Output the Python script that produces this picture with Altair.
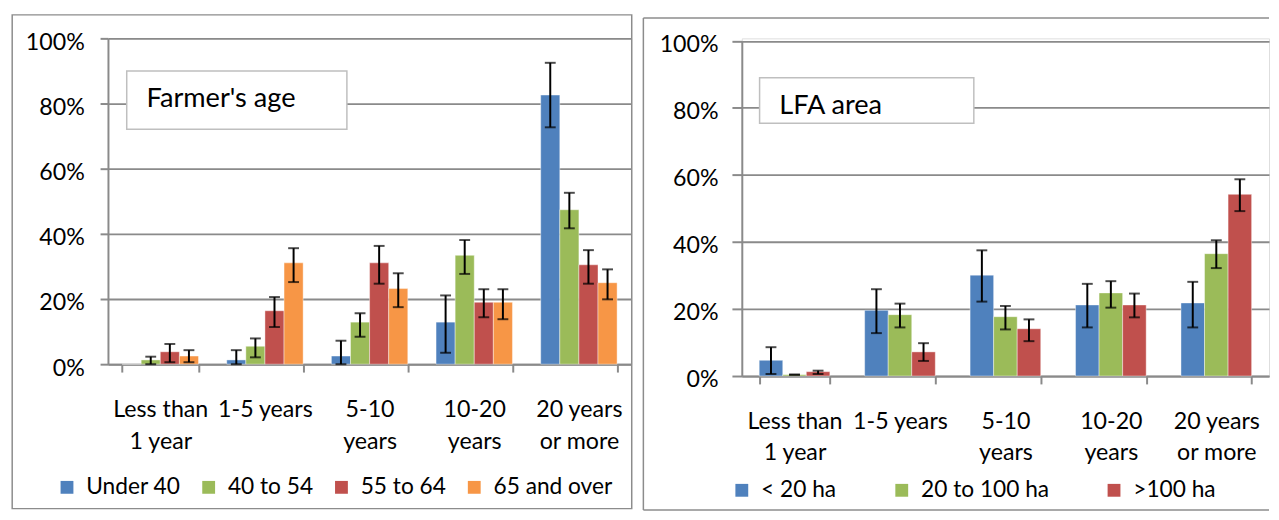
import altair as alt
import pandas as pd

# ---------------- data ----------------
categories = ["Less than|1 year", "1-5 years", "5-10|years", "10-20|years", "20 years|or more"]

# Left panel: farmer's age (percent of farms)
age_groups = ["Under 40", "40 to 54", "55 to 64", "65 and over"]
age_colors = ["#4F81BD", "#9BBB59", "#C0504D", "#F79646"]
under40_val = [0.0, 1.3, 2.5, 12.9, 82.6]
under40_low = [None, 0.0, 0.0, 3.5, 72.7]
under40_high = [None, 4.3, 7.2, 21.1, 92.5]
a40_54_val = [1.3, 5.5, 12.9, 33.4, 47.4]
a40_54_low = [0.0, 2.1, 8.4, 27.7, 41.7]
a40_54_high = [2.3, 7.9, 15.6, 38.1, 52.6]
a55_64_val = [3.8, 16.4, 31.1, 19.0, 30.5]
a55_64_low = [0.6, 11.4, 24.7, 14.4, 24.7]
a55_64_high = [6.2, 20.6, 36.3, 23.0, 35.0]
a65_val = [2.5, 31.1, 23.2, 19.0, 25.0]
a65_low = [0.6, 25.2, 17.5, 13.8, 19.9]
a65_high = [4.3, 35.6, 27.9, 23.0, 29.1]

# Right panel: LFA area
lfa_groups = ["< 20 ha", "20 to 100 ha", ">100 ha"]
lfa_colors = ["#4F81BD", "#9BBB59", "#C0504D"]
lt20_val = [4.7, 19.6, 30.1, 21.2, 21.8]
lt20_low = [0.6, 12.8, 22.2, 14.5, 14.5]
lt20_high = [8.6, 25.9, 37.5, 27.5, 28.1]
mid_val = [0.4, 18.3, 17.7, 24.8, 36.5]
mid_low = [0.4, 14.5, 13.9, 20.4, 32.2]
mid_high = [0.4, 21.6, 20.9, 28.3, 40.5]
gt100_val = [1.3, 7.2, 14.1, 21.2, 54.2]
gt100_low = [0.6, 4.5, 10.4, 17.5, 49.2]
gt100_high = [1.6, 9.8, 16.9, 24.6, 58.7]

y_ticks = [0, 20, 40, 60, 80, 100]
left_label = "Farmer's age"
right_label = "LFA area"

FONT = "Lato"
GRAY = "#8A8A8A"
FS = 23.5
LEG_FS = 23


def long_frame(groups, vals, lows, highs):
    rows = []
    for g, v, lo, hi in zip(groups, vals, lows, highs):
        for c, a, b, d in zip(categories, v, lo, hi):
            rows.append({"cat": c, "series": g, "value": a, "low": b, "high": d})
    return pd.DataFrame(rows)


age_df = long_frame(age_groups,
                    [under40_val, a40_54_val, a55_64_val, a65_val],
                    [under40_low, a40_54_low, a55_64_low, a65_low],
                    [under40_high, a40_54_high, a55_64_high, a65_high])
lfa_df = long_frame(lfa_groups,
                    [lt20_val, mid_val, gt100_val],
                    [lt20_low, mid_low, gt100_low],
                    [lt20_high, mid_high, gt100_high])

one = pd.DataFrame({"k": [0]})


def panel(df, groups, colors, w, h, y_range, pad_inner, frame, box, label, label_xy,
          legend_xy, col_pad, ytick, ypad):
    err_df = df.dropna(subset=["low", "high"])
    x_axis = alt.Axis(
        title=None, labelExpr="split(datum.label, '|')", labelAngle=0,
        labelFont=FONT, labelFontSize=FS, labelColor="black",
        labelLineHeight=32, labelPadding=26, tickBand="extent", tickSize=8,
        tickWidth=2, tickColor=GRAY, domainColor=GRAY, domainWidth=2,
        grid=False, labelLimit=300)
    y_axis = alt.Axis(
        title=None, values=y_ticks, labelExpr="datum.value + '%'",
        labelFont=FONT, labelFontSize=FS, labelColor="black",
        labelPadding=ypad, labelOffset=4, tickSize=ytick, tickWidth=2,
        tickColor=GRAY, domainColor=GRAY, domainWidth=2,
        grid=True, gridColor=GRAY, gridWidth=1.8)
    xs = alt.Scale(paddingInner=pad_inner, paddingOuter=pad_inner / 2)
    x_main = alt.X("cat:N", sort=categories, title=None, scale=xs, axis=x_axis)
    x_plain = alt.X("cat:N", sort=categories, title=None)
    xoff = alt.XOffset("series:N", sort=groups,
                       scale=alt.Scale(domain=groups, paddingInner=0, paddingOuter=0))
    color = alt.Color(
        "series:N", sort=groups, scale=alt.Scale(domain=groups, range=colors),
        legend=alt.Legend(
            title=None, orient="none", legendX=legend_xy[0], legendY=legend_xy[1],
            direction="horizontal", columns=len(groups), symbolType="square",
            symbolSize=169, symbolStrokeWidth=0, labelFont=FONT,
            labelFontSize=LEG_FS, labelColor="black", labelOffset=8,
            columnPadding=col_pad, padding=0, gridAlign="each", labelLimit=300))

    ys = alt.Scale(domain=[0, 100], nice=False)
    if y_range is not None:
        ys = alt.Scale(domain=[0, 100], nice=False, range=y_range)

    bars = alt.Chart(df).mark_bar(stroke="white", strokeWidth=0.6, strokeOpacity=0.7).encode(
        x=x_main,
        y=alt.Y("value:Q", title=None, scale=ys, axis=y_axis),
        xOffset=xoff, color=color)
    rule = alt.Chart(err_df).mark_rule(color="black", strokeWidth=2).encode(
        x=x_plain, xOffset=xoff, y=alt.Y("low:Q", title=None), y2="high:Q")
    cap_hi = alt.Chart(err_df).mark_tick(color="black", thickness=2, size=11,
                                         orient="horizontal").encode(
        x=x_plain, xOffset=xoff, y=alt.Y("high:Q", title=None))
    cap_lo = alt.Chart(err_df).mark_tick(color="black", thickness=2, size=11,
                                         orient="horizontal").encode(
        x=x_plain, xOffset=xoff, y=alt.Y("low:Q", title=None))

    box_rect = alt.Chart(one).mark_rect(fill="white", stroke="#BFBFBF", strokeWidth=1.5).encode(
        x=alt.value(box[0]), x2=alt.value(box[1]), y=alt.value(box[2]), y2=alt.value(box[3]))
    box_text = alt.Chart(one).mark_text(align="left", baseline="middle", font=FONT,
                                        fontSize=27.5, color="black").encode(
        x=alt.value(label_xy[0]), y=alt.value(label_xy[1]), text=alt.value(label))

    layers = frame + [box_rect, box_text, bars, rule, cap_hi, cap_lo]
    return alt.layer(*layers).properties(width=w, height=h)


FRAME = "#8C8C8C"

# frame of left panel (closed box)
left_frame = [alt.Chart(one).mark_rect(fill="white", fillOpacity=0, stroke=FRAME, strokeWidth=1.5).encode(
    x=alt.value(-97), x2=alt.value(530.5), y=alt.value(-23.8), y2=alt.value(476.3))]


# frame of right panel (open on the right, cut by the page edge)
def hline(x1, x2, y):
    return alt.Chart(one).mark_rule(color=FRAME, strokeWidth=1.5).encode(
        x=alt.value(x1), x2=alt.value(x2), y=alt.value(y))


RW = 534
right_frame = [
    hline(-99.7, RW, -20.7),
    hline(-99.7, RW, 477.7),
    alt.Chart(one).mark_rule(color=FRAME, strokeWidth=1.5).encode(
        x=alt.value(-99.7), y=alt.value(-20.7), y2=alt.value(477.7)),
]

left = panel(age_df, age_groups, age_colors, 530, 330, None, 0.27, left_frame,
             (19, 242, 33, 92), left_label, (39, 62), (-53, 443), 16.5, 8, 16)
right = panel(lfa_df, lfa_groups, lfa_colors, RW, 342, [342, 2.5], 0.33, right_frame,
              (18, 235, 40, 86), right_label, (38, 69), (-11.5, 446), 54, 10, 14)

chart = alt.hconcat(left, right, spacing=9).resolve_scale(
    color="independent", x="independent", y="independent", xOffset="independent"
).resolve_legend(color="independent").properties(
    padding={"left": 2.25, "top": 1.5, "right": 0, "bottom": 0}
).configure_view(stroke=None).configure(background="white")

chart.save("out.html", embed_options={"renderer": "svg", "actions": False})
